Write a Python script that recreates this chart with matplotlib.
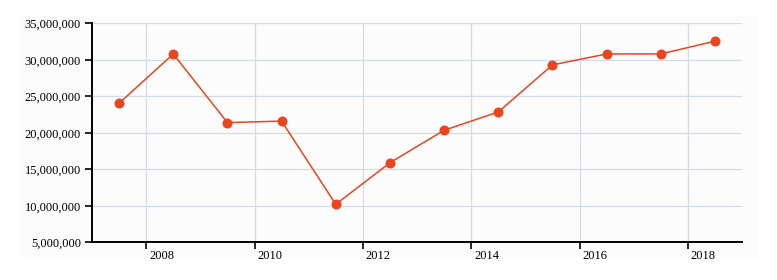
import matplotlib
matplotlib.use("Agg")
import matplotlib.pyplot as plt
import matplotlib.transforms as mtransforms
from matplotlib.ticker import FuncFormatter
from matplotlib.patches import Rectangle

years = [2007.5, 2008.5, 2009.5, 2010.5, 2011.5, 2012.5, 2013.5, 2014.5,
         2015.5, 2016.5, 2017.5, 2018.5]
values = [24.05e6, 30.8e6, 21.4e6, 21.6e6, 10.2e6, 15.9e6, 20.35e6, 22.85e6,
          29.3e6, 30.8e6, 30.8e6, 32.55e6]
x_ticks = [2008, 2010, 2012, 2014, 2016, 2018]
y_ticks = [5e6, 10e6, 15e6, 20e6, 25e6, 30e6, 35e6]

plt.rcParams['font.family'] = ['Liberation Serif', 'DejaVu Serif']

W, H = 777, 280
fig = plt.figure(figsize=(W / 100, H / 100), dpi=100, facecolor='white')
bg = Rectangle((20 / W, 1 - 258 / H), (758 - 20) / W, (258 - 15) / H,
               transform=fig.transFigure, facecolor='#fcfcfc',
               edgecolor='none', zorder=-10)
fig.patches.append(bg)
ax = fig.add_axes([92 / W, 1 - 242.3 / H, (742 - 92) / W, (242.3 - 23.3) / H])
ax.set_zorder(1)
ax.set_facecolor('#fcfcfc')

ax.plot(years, values, color='#e8461e', lw=1.1, marker='o', ms=7.2,
        markeredgewidth=0, zorder=3, clip_on=False)

ax.set_xlim(2007, 2019)
ax.set_ylim(5e6, 35e6)
ax.set_xticks(x_ticks)
ax.set_yticks(y_ticks)
ax.yaxis.set_major_formatter(FuncFormatter(lambda v, p: f"{int(v):,}"))
ax.set_xticklabels([str(t) for t in x_ticks])

ax.grid(True, color='#d5dce6', lw=0.9)
ax.set_axisbelow(True)
for s in ['top', 'right']:
    ax.spines[s].set_visible(False)
for s in ['left', 'bottom']:
    ax.spines[s].set_linewidth(1.4)
    ax.spines[s].set_color('black')

ax.tick_params(axis='both', length=5, width=1.2, labelsize=9, colors='black')
ax.tick_params(axis='x', pad=0.5)
ax.tick_params(axis='y', pad=3)

offset = mtransforms.ScaledTranslation(3 / 100, 0, fig.dpi_scale_trans)
for lab in ax.get_xticklabels():
    lab.set_horizontalalignment('left')
    lab.set_transform(lab.get_transform() + offset)

fig.savefig('out.png', dpi=100, facecolor='white')
